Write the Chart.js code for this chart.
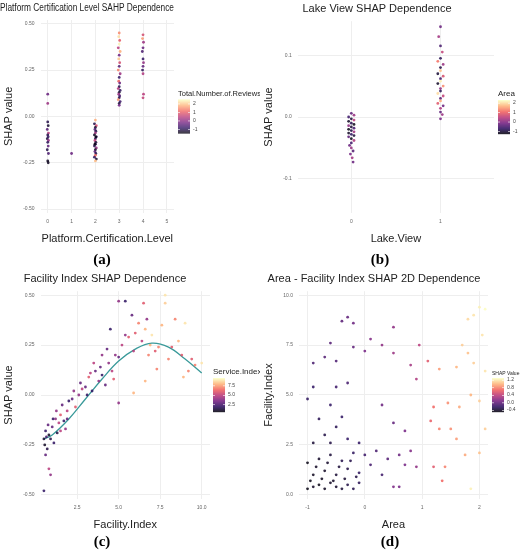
<!DOCTYPE html>
<html>
<head>
<meta charset="utf-8">
<script src="https://cdn.jsdelivr.net/npm/chart.js@4.4.1/dist/chart.umd.min.js"></script>
<style>
  body { margin: 0; background: #fff; width: 520px; height: 556px; overflow: hidden; }
  .grid { display: grid; grid-template-columns: 260px 260px; }
  .cell { position: relative; }
  .cap { position: absolute; left: 0; width: 180px; text-align: center; font: bold 15px "Liberation Serif", serif; }
</style>
</head>
<body>
<div class="grid">
  <div class="cell" style="height:270px"><canvas id="ca" width="260" height="252"></canvas><div class="cap" style="top:251px;left:12px">(a)</div></div>
  <div class="cell" style="height:270px"><canvas id="cb" width="260" height="252"></canvas><div class="cap" style="top:251px;left:30px">(b)</div></div>
  <div class="cell" style="height:286px"><canvas id="cc" width="260" height="268"></canvas><div class="cap" style="top:263px;left:12px">(c)</div></div>
  <div class="cell" style="height:286px"><canvas id="cd" width="260" height="268"></canvas><div class="cap" style="top:263px;left:40px">(d)</div></div>
</div>
<script>
// panel (a): [Platform.Certification.Level, SHAP value, Total.Number.of.Reviews]
const certPoints = [
  [0.0,0.12,-0.3],[0.0,0.07,0.2],[0.0,-0.03,-1],[0.02,-0.05,-1.2],[-0.02,-0.07,-0.5],[0.03,-0.09,0.5],
  [0.0,-0.1,-1],[0.02,-0.11,-0.8],[-0.02,-0.12,-1.1],[0.03,-0.13,0.1],[0.0,-0.14,-0.9],[0.02,-0.16,-0.4],
  [-0.02,-0.18,-1],[0.03,-0.2,-0.6],[0.0,-0.24,-1.3],[0.02,-0.25,-1.3],
  [1.0,-0.2,-0.3],
  [2.0,-0.02,1.8],[1.96,-0.04,-1],[2.04,-0.05,0.8],[2.0,-0.06,-1.2],[1.98,-0.07,-0.5],[2.02,-0.08,-1],
  [2.0,-0.09,0.3],[1.96,-0.1,-1.3],[2.04,-0.11,-0.8],[2.0,-0.12,-1],[1.98,-0.13,0.6],[2.02,-0.14,-1.2],
  [2.0,-0.15,-0.7],[1.96,-0.16,-1],[2.04,-0.17,0.1],[2.0,-0.18,-1.3],[1.98,-0.19,-0.4],[2.02,-0.2,-1],
  [2.0,-0.21,1.2],[1.96,-0.22,-0.9],[2.04,-0.23,-1.2],[2.0,-0.24,1.9],[2.02,-0.11,-1.4],[1.98,-0.15,-1.4],
  [3.0,0.45,1.5],[2.98,0.43,2.2],[3.02,0.41,1],[3.0,0.39,2.4],[2.96,0.37,0.5],[3.04,0.35,1.8],[3.0,0.33,-0.2],
  [2.98,0.31,2],[3.02,0.29,0.8],[3.0,0.27,-0.5],[2.96,0.25,1.4],[3.04,0.23,0.2],[3.0,0.21,-0.8],
  [2.98,0.19,1.1],[3.02,0.18,-0.3],[3.0,0.16,-1],[2.96,0.15,0.4],[3.04,0.14,-0.9],[3.0,0.13,-1.2],
  [2.98,0.12,0.2],[3.02,0.11,-0.6],[3.0,0.1,-1],[2.96,0.09,1.6],[3.04,0.08,-0.7],[3.0,0.07,-1.1],[3.0,0.06,-0.2],
  [4.0,0.44,0.8],[3.98,0.42,1.6],[4.02,0.4,0.2],[4.0,0.37,-0.3],[3.97,0.35,-0.6],[4.0,0.31,-0.8],
  [4.02,0.29,0.1],[4.0,0.27,-0.4],[3.98,0.25,-0.9],[4.0,0.23,0.4],[4.02,0.12,0.5],[4.0,0.1,0.6]
];
// panel (b): [Lake.View, SHAP value, Area]
const lakePoints = [
  [0.0,0.006,-0.3],[0.03,0.003,0.2],[-0.03,0.0,-0.6],[0.0,-0.003,-1],[0.03,-0.005,0.5],[-0.03,-0.007,-1.1],
  [0.0,-0.01,-0.8],[0.03,-0.012,-1.2],[-0.03,-0.014,0.1],[0.0,-0.016,-1],[0.03,-0.018,-0.5],[-0.03,-0.02,-1.2],
  [0.0,-0.022,-0.9],[0.03,-0.024,0.3],[-0.03,-0.026,-1.1],[0.0,-0.028,-0.7],[0.03,-0.03,-1],[-0.03,-0.032,-0.3],
  [0.0,-0.035,-1.2],[0.03,-0.038,0.4],[0.0,-0.042,-0.6],[-0.02,-0.046,-0.2],[0.0,-0.05,0.2],[0.02,-0.055,-0.4],
  [-0.01,-0.06,-0.1],[0.01,-0.066,0.3],[0.02,-0.073,-0.2],
  [1.0,0.146,-0.2],[0.98,0.13,0.3],[1.0,0.115,-0.5],[1.02,0.105,0.6],[1.0,0.095,-0.8],[0.97,0.09,1.2],
  [1.03,0.085,0.2],[1.0,0.08,-0.9],[1.0,0.075,1.8],[0.97,0.07,-1],[1.03,0.066,0.8],[1.0,0.062,-0.6],
  [1.0,0.058,2.2],[0.97,0.054,-1.1],[1.03,0.05,1.4],[1.0,0.046,0.1],[1.0,0.042,-0.8],[0.97,0.038,2],
  [1.03,0.034,0.6],[1.0,0.03,-0.4],[1.0,0.026,1.6],[0.97,0.022,0.9],[1.03,0.018,-0.2],[1.0,0.014,0.4],
  [1.0,0.008,-0.3],[1.02,0.004,0.2],[1.0,-0.003,-0.1]
];
// panel (c): [Facility.Index, SHAP value, Service.Index]
const facilityPoints = [
  [0.5,-0.48,2],[0.6,-0.3,3],[0.8,-0.37,5],[0.9,-0.4,4],[0.7,-0.27,1.5],[0.5,-0.22,1.2],[0.6,-0.18,2],
  [0.8,-0.2,1],[1.0,-0.16,3],[1.1,-0.24,2],[1.2,-0.12,4],[1.3,-0.19,1.5],[1.4,-0.14,5],[1.5,-0.1,6],
  [1.6,-0.05,3],[1.7,-0.13,2],[1.8,-0.17,4],[1.9,-0.08,5],[2.0,-0.03,2],[2.2,-0.02,3],[2.4,-0.06,6],
  [2.6,0.0,4],[2.8,0.03,5],[3.0,0.04,3],[3.2,0.09,6],[3.4,0.02,2],[3.6,0.12,3],[3.8,0.07,4],[4.0,0.1,2],
  [4.2,0.05,3],[4.4,0.16,4],[4.6,0.12,5],[4.3,0.23,3],[4.5,0.33,2],[4.0,0.2,4],[3.5,0.16,5],
  [5.0,0.19,3],[5.2,0.25,5],[5.4,0.3,4],[5.6,0.29,6],[5.8,0.4,3],[5.0,0.47,4],[5.4,0.47,2],[5.9,0.22,5],
  [6.0,0.31,6],[6.2,0.36,7],[6.4,0.27,5],[6.6,0.33,8],[6.7,0.38,4],[6.5,0.46,6],[6.8,0.2,7],[6.9,0.25,8],
  [7.0,0.3,9],[7.2,0.22,6],[7.4,0.24,7],[7.6,0.35,8],[7.8,0.5,9],[7.8,0.46,8.5],[8.0,0.18,7],[8.2,0.24,6],
  [8.4,0.38,7],[8.6,0.27,8],[8.8,0.2,6],[9.0,0.36,9],[9.2,0.12,7],[9.4,0.18,6],[9.6,0.15,7],[10.0,0.16,9],
  [6.6,0.07,8],[5.9,0.01,8],[5.0,-0.04,4],[4.7,0.08,6],[7.3,0.13,7],[8.9,0.09,8],
  [0.55,-0.25,1],[0.65,-0.21,2.5],[0.75,-0.15,3],[0.9,-0.22,1.5],[1.05,-0.12,2],[1.25,-0.08,4],
  [1.5,-0.18,5],[1.9,-0.12,3],[2.3,0.02,4],[2.7,0.06,3],[3.1,0.0,2],[3.3,0.11,5],[3.9,0.14,3],[4.8,0.2,4]
];
// smoothed trend
const trendX = [0.5, 1, 2, 3, 4, 5, 6, 7, 8, 9, 10];
const trendY = [-0.22, -0.2, -0.12, -0.02, 0.08, 0.17, 0.23, 0.26, 0.24, 0.18, 0.11];
// panel (d): [Area, Facility.Index, SHAP Value]
const areaPoints = [
  [-1.0,0.3,-0.45],[-0.9,0.4,-0.4],[-0.8,0.5,-0.45],[-0.7,0.3,-0.42],[-0.6,0.6,-0.4],[-0.5,0.4,-0.38],
  [-0.4,0.3,-0.35],[-0.3,0.5,-0.3],[-0.2,0.3,-0.28],[-0.1,0.6,-0.25],[-0.9,1.0,-0.42],[-0.7,1.2,-0.4],
  [-0.5,1.0,-0.35],[-0.3,1.3,-0.3],[-0.1,1.1,-0.22],[-1.0,1.6,-0.45],[-0.8,1.8,-0.38],[-0.6,2.0,-0.34],
  [-0.4,1.7,-0.28],[-0.2,2.1,-0.22],[-0.9,2.6,-0.35],[-0.7,3.0,-0.3],[-0.5,3.4,-0.25],[-0.3,2.8,-0.2],
  [-0.8,3.8,-0.25],[-0.6,4.5,-0.2],[-0.5,5.4,-0.15],[-0.3,5.6,-0.12],[-0.9,5.4,-0.2],[-1.0,4.8,-0.22],
  [-0.9,6.6,-0.1],[-0.7,6.9,-0.05],[-0.5,6.7,-0.08],[-0.4,8.7,-0.02],[-0.3,8.9,0.0],[-0.2,8.6,0.05],
  [-0.6,7.6,-0.05],[-0.2,7.4,0.0],[0.0,7.2,0.1],[0.1,7.8,0.15],[0.3,7.5,0.2],[0.5,7.1,0.25],[0.5,8.4,0.2],
  [0.0,2.0,-0.15],[0.1,1.5,-0.12],[0.2,2.2,-0.1],[0.3,1.0,-0.15],[0.4,1.8,-0.05],[0.5,3.6,0.0],[0.6,2.0,0.05],
  [0.7,1.5,0.1],[0.8,2.2,0.15],[0.9,1.4,0.2],[0.7,3.2,0.1],[0.3,4.5,0.05],[0.6,0.4,0.1],[0.5,0.4,0.12],
  [0.8,6.5,0.3],[0.9,5.8,0.35],[0.95,7.5,0.4],[1.1,6.7,0.6],[1.2,4.4,0.7],[1.15,3.7,0.65],[1.3,3.3,0.8],
  [1.2,1.4,0.6],[1.35,0.7,0.7],[1.4,1.4,0.8],[1.5,3.3,0.85],[1.6,2.8,0.9],[1.45,4.6,0.85],[1.3,6.3,0.9],
  [1.6,6.4,1.0],[1.7,7.5,1.1],[1.8,8.8,1.15],[1.9,9.0,1.2],[2.0,9.4,1.25],[2.1,9.3,1.3],[2.05,8.0,1.2],
  [1.9,6.6,1.1],[2.1,6.2,1.2],[1.85,5.0,1.0],[2.0,4.7,1.1],[1.75,2.0,0.95],[2.0,2.1,1.05],[1.85,0.3,1.25],
  [1.65,4.4,0.95],[2.1,3.3,1.1],[1.8,7.1,1.05],
  [-0.95,0.7,-0.45],[-0.75,0.8,-0.42],[-0.55,0.7,-0.4],[-0.35,0.8,-0.36],[-0.15,0.9,-0.3],[-0.85,1.4,-0.4],
  [-0.65,1.6,-0.38],[-0.45,1.4,-0.34],[-0.25,1.7,-0.28],[-0.6,2.6,-0.3],[-0.4,3.9,-0.2],[-0.1,2.6,-0.2]
];

// tick marks and labels on each axis
const certXTicks = [0, 1, 2, 3, 4, 5];
const shapTicks = [-0.5, -0.25, 0, 0.25, 0.5];
const lakeXTicks = [0, 1];
const lakeYTicks = [-0.1, 0, 0.1];
const facilityXTicks = [2.5, 5, 7.5, 10];
const areaXTicks = [-1, 0, 1, 2];
const areaYTicks = [0, 2.5, 5, 7.5, 10];

const magmaStops = ['#000004', '#2c115f', '#721f81', '#b73779', '#f1605d', '#feb078', '#fcfdbf'];
function magma(t) {
  t = Math.max(0, Math.min(1, t));
  const p = t * (magmaStops.length - 1);
  const i = Math.min(Math.floor(p), magmaStops.length - 2);
  const f = p - i;
  const a = parseInt(magmaStops[i].slice(1), 16), b = parseInt(magmaStops[i + 1].slice(1), 16);
  const ch = s => Math.round(((a >> s) & 255) * (1 - f) + ((b >> s) & 255) * f);
  return `rgba(${ch(16)},${ch(8)},${ch(0)},0.85)`;
}

// colour bar drawn at the right of each plot
const colorBar = {
  id: 'colorBar',
  afterDraw(chart, args, o) {
    const ctx = chart.ctx;
    const x = chart.chartArea.right + o.dx, h = 34, w = 12;
    const y = (chart.chartArea.top + chart.chartArea.bottom) / 2 - h / 2 + o.dy;
    ctx.save();
    ctx.fillStyle = '#222';
    ctx.font = o.titleSize + 'px "Liberation Sans", Arial';
    ctx.textBaseline = 'bottom';
    ctx.fillText(o.title, x, y - 2);
    for (let i = 0; i < h; i++) {
      ctx.fillStyle = magma(1 - i / h);
      ctx.fillRect(x, y + i, w, 1.2);
    }
    ctx.font = '5px "Liberation Sans", Arial';
    ctx.textBaseline = 'middle';
    o.ticks.forEach(v => {
      const yy = y + h * (1 - (v - o.min) / (o.max - o.min));
      ctx.fillStyle = '#fff';
      ctx.fillRect(x, yy, 2, 0.6); ctx.fillRect(x + w - 2, yy, 2, 0.6);
      ctx.fillStyle = '#444';
      ctx.fillText(v.toFixed(o.dec), x + w + 3, yy);
    });
    ctx.restore();
  }
};

function makeChart(id, cfg) {
  const axis = (min, max, ticks, title, dec) => ({
    min: min, max: max,
    afterBuildTicks: ax => { ax.ticks = ticks.map(v => ({ value: v })); },
    title: { display: true, text: title, color: '#222', font: { size: 11, family: 'Liberation Sans' }, padding: 2 },
    grid: { color: '#eeeeee', drawTicks: false },
    border: { display: false },
    ticks: { color: '#666', font: { size: 5 }, padding: 6, callback: v => v.toFixed(dec) }
  });
  const datasets = [{
    type: 'scatter',
    data: cfg.points.map(p => ({ x: p[0], y: p[1] })),
    pointBackgroundColor: cfg.points.map(p => magma((p[2] - cfg.cMin) / (cfg.cMax - cfg.cMin))),
    pointBorderWidth: 0, pointRadius: 1.4
  }];
  if (cfg.trend) datasets.push({
    type: 'line', data: cfg.trend, borderColor: '#3a9a9a', borderWidth: 1.3,
    pointRadius: 0, tension: 0.4, fill: false
  });
  return new Chart(document.getElementById(id), {
    type: 'scatter',
    data: { datasets: datasets },
    plugins: [colorBar],
    options: {
      responsive: false, animation: false,
      layout: { padding: { top: 2, right: cfg.padRight, left: 0, bottom: 4 } },
      plugins: {
        legend: { display: false }, tooltip: { enabled: false },
        title: { display: true, text: cfg.title, color: '#222', font: { size: cfg.titleSize, weight: 'normal', family: 'Liberation Sans' }, padding: { top: 0, bottom: 6 } },
        colorBar: cfg.bar
      },
      scales: {
        x: axis(cfg.x[0], cfg.x[1], cfg.xTicks, cfg.xTitle, cfg.x[2]),
        y: axis(cfg.y[0], cfg.y[1], cfg.yTicks, cfg.yTitle, cfg.y[2])
      }
    }
  });
}

makeChart('ca', {
  title: 'Platform Certification Level SAHP Dependence', titleSize: 10, points: certPoints, cMin: -1.5, cMax: 2.5,
  x: [-0.3, 5.3, 0], y: [-0.52, 0.52, 2], xTicks: certXTicks, yTicks: shapTicks,
  xTitle: 'Platform.Certification.Level', yTitle: 'SHAP value',
  padRight: 86, bar: { title: 'Total.Number.of.Reviews', titleSize: 7.5, dx: 4, dy: 0, min: -1.5, max: 2.5, ticks: [-1, 0, 1, 2], dec: 0 }
});
makeChart('cb', {
  title: 'Lake View SHAP Dependence', titleSize: 11, points: lakePoints, cMin: -1.3, cMax: 2.3,
  x: [-0.6, 1.6, 0], y: [-0.155, 0.155, 1], xTicks: lakeXTicks, yTicks: lakeYTicks,
  xTitle: 'Lake.View', yTitle: 'SHAP value',
  padRight: 26, bar: { title: 'Area', titleSize: 8, dx: 4, dy: 0, min: -1.3, max: 2.3, ticks: [-1, 0, 1, 2], dec: 0 }
});
makeChart('cc', {
  title: 'Facility Index SHAP Dependence', titleSize: 11, points: facilityPoints, cMin: 0.5, cMax: 9.5,
  trend: trendX.map((x, i) => ({ x: x, y: trendY[i] })),
  x: [0.3, 10.5, 1], y: [-0.52, 0.52, 2], xTicks: facilityXTicks, yTicks: shapTicks,
  xTitle: 'Facility.Index', yTitle: 'SHAP value',
  padRight: 50, bar: { title: 'Service.Index', titleSize: 8, dx: 3, dy: 0, min: 0.5, max: 9.5, ticks: [2.5, 5, 7.5], dec: 1 }
});
makeChart('cd', {
  title: 'Area - Facility Index SHAP 2D Dependence', titleSize: 11, points: areaPoints, cMin: -0.5, cMax: 1.3,
  x: [-1.15, 2.15, 0], y: [-0.2, 10.2, 1], xTicks: areaXTicks, yTicks: areaYTicks,
  xTitle: 'Area', yTitle: 'Facility.Index',
  padRight: 32, bar: { title: 'SHAP Value', titleSize: 5, dx: 4, dy: 0, min: -0.5, max: 1.3, ticks: [-0.4, 0, 0.4, 0.8, 1.2], dec: 1 }
});
</script>
</body>
</html>
